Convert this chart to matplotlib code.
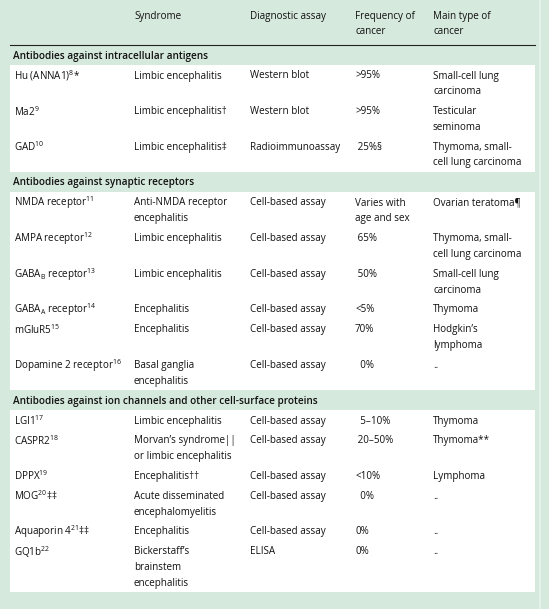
import matplotlib.pyplot as plt

plt.rcParams['font.family'] = ['Open Sans', 'DejaVu Sans']
plt.rcParams['mathtext.default'] = 'regular'

# table content
header = ["", "Syndrome", "Diagnostic assay", "Frequency of\ncancer", "Main type of\ncancer"]
sections = ["Antibodies against intracellular antigens",
            "Antibodies against synaptic receptors",
            "Antibodies against ion channels and other cell-surface proteins"]
section_of_row = [0, 0, 0, 1, 1, 1, 1, 1, 1, 2, 2, 2, 2, 2, 2]

antibodies = ["Hu (ANNA1)", "Ma2", "GAD", "NMDA receptor", "AMPA receptor",
              "GABA$_{B}$ receptor", "GABA$_{A}$ receptor", "mGluR5",
              "Dopamine 2 receptor", "LGI1", "CASPR2", "DPPX", "MOG",
              "Aquaporin 4", "GQ1b"]
refs = ["8", "9", "10", "11", "12", "13", "14", "15", "16", "17", "18", "19", "20", "21", "22"]
marks = ["*", "", "", "", "", "", "", "", "", "", "", "", "‡‡", "‡‡", ""]
syndromes = ["Limbic encephalitis", "Limbic encephalitis†", "Limbic encephalitis‡",
             "Anti-NMDA receptor\nencephalitis", "Limbic encephalitis", "Limbic encephalitis",
             "Encephalitis", "Encephalitis", "Basal ganglia\nencephalitis",
             "Limbic encephalitis", "Morvan’s syndrome||\nor limbic encephalitis",
             "Encephalitis††", "Acute disseminated\nencephalomyelitis", "Encephalitis",
             "Bickerstaff’s\nbrainstem\nencephalitis"]
assays = ["Western blot", "Western blot", "Radioimmunoassay", "Cell-based assay",
          "Cell-based assay", "Cell-based assay", "Cell-based assay", "Cell-based assay",
          "Cell-based assay", "Cell-based assay", "Cell-based assay", "Cell-based assay",
          "Cell-based assay", "Cell-based assay", "ELISA"]
frequency = [">95%", ">95%", " 25%§", "Varies with\nage and sex", " 65%", " 50%", "<5%",
             "70%", "  0%", "  5–10%", " 20–50%", "<10%", "  0%", "0%", "0%"]
cancers = ["Small-cell lung\ncarcinoma", "Testicular\nseminoma", "Thymoma, small-\ncell lung carcinoma",
           "Ovarian teratoma¶", "Thymoma, small-\ncell lung carcinoma", "Small-cell lung\ncarcinoma",
           "Thymoma", "Hodgkin’s\nlymphoma", "..", "Thymoma", "Thymoma**", "Lymphoma",
           "..", "..", ".."]

# layout (pixels)
W, H = 549, 609
col_x = [14, 134, 250, 355, 433]
LINE, GAP = 15.8, 19.8
FS = 7.1
green = "#d6e9dd"

fig = plt.figure(figsize=(W / 100, H / 100), dpi=100, facecolor=green)
ax = fig.add_axes([0, 0, 1, 1])
ax.set_xlim(0, W)
ax.set_ylim(H, 0)
ax.axis("off")
ax.set_facecolor(green)

# column headers
for x, h in zip(col_x, header):
    for i, line in enumerate(h.split("\n")):
        ax.text(x, 17 + i * 15, line, fontsize=FS, va="center", color="#111111")
ax.plot([10, 535], [45, 45], color="#222222", lw=0.8)
ax.plot([540, 540], [0, H], color="#e9f2ec", lw=1.2)

y = 56
for s, title in enumerate(sections):
    ax.text(13, y, title, fontsize=FS + 0.1, fontweight="semibold", va="center", color="#111111")
    top = y + 9
    y = y + 20
    rows = [r for r in range(len(antibodies)) if section_of_row[r] == s]
    last = y
    for r in rows:
        label = antibodies[r] + "$^{" + refs[r] + "}$" + marks[r]
        cells = [label, syndromes[r], assays[r], frequency[r], cancers[r]]
        n = max(c.count("\n") + 1 for c in cells)
        for x, c in zip(col_x, cells):
            for i, line in enumerate(c.split("\n")):
                ax.text(x, y + i * LINE, line, fontsize=FS, va="center", color="#111111")
        last = y + (n - 1) * LINE
        y = last + GAP
    bottom = last + 9
    ax.add_patch(plt.Rectangle((10, top), 525, bottom - top, facecolor="white", edgecolor="none", zorder=0))
    y = bottom + 11

fig.savefig("out.png", dpi=100, facecolor=green)
